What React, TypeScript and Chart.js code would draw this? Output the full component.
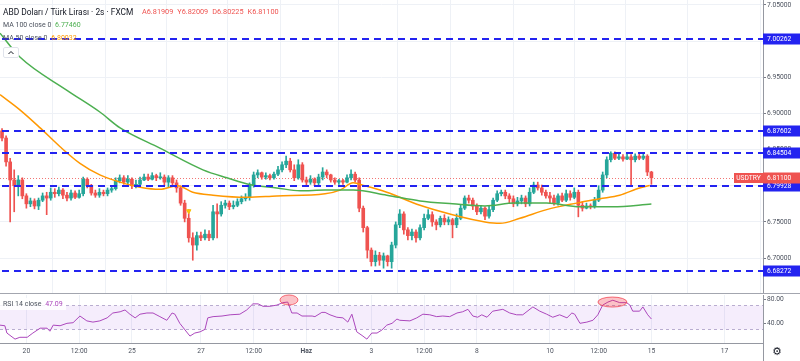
import React, { useEffect, useRef } from 'react';
import { Chart, registerables } from 'chart.js';

Chart.register(...registerables);

// ---------- data ----------
const firstOpen = 6.876;
const closes = [
  6.866, 6.833, 6.808, 6.800, 6.808, 6.786, 6.775, 6.779, 6.772, 6.780,
  6.786, 6.783, 6.791, 6.789, 6.794, 6.787, 6.783, 6.790, 6.784, 6.789,
  6.809, 6.800, 6.790, 6.787, 6.791, 6.789, 6.794, 6.796, 6.807, 6.811,
  6.805, 6.809, 6.800, 6.802, 6.808, 6.812, 6.809, 6.814, 6.811, 6.812,
  6.805, 6.811, 6.804, 6.797, 6.776, 6.755, 6.728, 6.718, 6.731, 6.728,
  6.733, 6.728, 6.764, 6.761, 6.773, 6.776, 6.771, 6.773, 6.778, 6.782,
  6.784, 6.801, 6.815, 6.818, 6.812, 6.814, 6.811, 6.816, 6.822, 6.829,
  6.834, 6.822, 6.811, 6.829, 6.808, 6.805, 6.809, 6.804, 6.812, 6.819,
  6.815, 6.808, 6.805, 6.807, 6.805, 6.811, 6.816, 6.808, 6.769, 6.742,
  6.711, 6.695, 6.704, 6.697, 6.703, 6.695, 6.718, 6.746, 6.761, 6.739,
  6.731, 6.736, 6.728, 6.742, 6.755, 6.760, 6.750, 6.746, 6.755, 6.750,
  6.753, 6.746, 6.755, 6.769, 6.783, 6.780, 6.772, 6.764, 6.769, 6.758,
  6.767, 6.780, 6.789, 6.791, 6.786, 6.782, 6.775, 6.779, 6.783, 6.775,
  6.791, 6.801, 6.797, 6.791, 6.786, 6.783, 6.776, 6.786, 6.780, 6.789,
  6.784, 6.791, 6.773, 6.769, 6.772, 6.771, 6.780, 6.794, 6.815, 6.836,
  6.845, 6.838, 6.840, 6.837, 6.840, 6.836, 6.841, 6.838, 6.841, 6.819,
  6.811,
];
const highs = [
  6.879, 6.869, 6.838, 6.822, 6.814, 6.811, 6.789, 6.783, 6.782, 6.783,
  6.790, 6.791, 6.797, 6.796, 6.798, 6.796, 6.791, 6.794, 6.793, 6.794,
  6.812, 6.811, 6.802, 6.794, 6.796, 6.794, 6.797, 6.800, 6.811, 6.815,
  6.814, 6.814, 6.811, 6.808, 6.812, 6.816, 6.816, 6.818, 6.816, 6.818,
  6.815, 6.814, 6.814, 6.808, 6.800, 6.780, 6.767, 6.735, 6.736, 6.736,
  6.739, 6.738, 6.773, 6.775, 6.778, 6.780, 6.779, 6.779, 6.782, 6.786,
  6.789, 6.804, 6.819, 6.822, 6.819, 6.818, 6.816, 6.819, 6.827, 6.833,
  6.841, 6.838, 6.829, 6.836, 6.832, 6.812, 6.814, 6.811, 6.816, 6.825,
  6.822, 6.816, 6.811, 6.809, 6.809, 6.815, 6.822, 6.819, 6.811, 6.772,
  6.744, 6.714, 6.710, 6.708, 6.707, 6.704, 6.722, 6.750, 6.767, 6.764,
  6.742, 6.740, 6.739, 6.746, 6.761, 6.767, 6.764, 6.753, 6.758, 6.760,
  6.757, 6.755, 6.761, 6.773, 6.786, 6.787, 6.783, 6.775, 6.773, 6.771,
  6.772, 6.783, 6.793, 6.794, 6.794, 6.789, 6.786, 6.784, 6.787, 6.786,
  6.797, 6.805, 6.805, 6.801, 6.794, 6.791, 6.787, 6.789, 6.790, 6.794,
  6.793, 6.797, 6.794, 6.778, 6.776, 6.775, 6.784, 6.800, 6.819, 6.840,
  6.847, 6.847, 6.844, 6.843, 6.844, 6.843, 6.844, 6.844, 6.844, 6.843,
  6.820,
];
const lows = [
  6.862, 6.827, 6.750, 6.764, 6.786, 6.782, 6.769, 6.771, 6.768, 6.767,
  6.778, 6.760, 6.780, 6.784, 6.786, 6.782, 6.779, 6.780, 6.782, 6.783,
  6.786, 6.797, 6.787, 6.784, 6.784, 6.786, 6.786, 6.791, 6.794, 6.804,
  6.802, 6.802, 6.796, 6.797, 6.800, 6.807, 6.807, 6.808, 6.807, 6.809,
  6.800, 6.798, 6.800, 6.791, 6.773, 6.750, 6.722, 6.697, 6.711, 6.724,
  6.725, 6.724, 6.725, 6.728, 6.758, 6.769, 6.767, 6.768, 6.771, 6.775,
  6.779, 6.780, 6.798, 6.811, 6.809, 6.809, 6.808, 6.809, 6.814, 6.819,
  6.825, 6.819, 6.807, 6.809, 6.805, 6.801, 6.802, 6.800, 6.801, 6.808,
  6.811, 6.805, 6.802, 6.802, 6.802, 6.804, 6.808, 6.805, 6.764, 6.736,
  6.700, 6.689, 6.689, 6.690, 6.686, 6.689, 6.686, 6.714, 6.742, 6.733,
  6.725, 6.725, 6.722, 6.725, 6.739, 6.753, 6.744, 6.739, 6.743, 6.746,
  6.746, 6.728, 6.742, 6.753, 6.767, 6.776, 6.767, 6.760, 6.761, 6.753,
  6.755, 6.764, 6.778, 6.786, 6.782, 6.776, 6.771, 6.772, 6.775, 6.771,
  6.772, 6.789, 6.794, 6.787, 6.783, 6.776, 6.773, 6.773, 6.778, 6.778,
  6.780, 6.782, 6.757, 6.765, 6.768, 6.768, 6.769, 6.778, 6.791, 6.811,
  6.833, 6.836, 6.836, 6.834, 6.836, 6.801, 6.833, 6.836, 6.836, 6.814,
  6.802,
];

const ma100Idx = [-0.5, 4.4, 16, 24.1, 29.1, 38.9, 49.5, 55.4, 61.6, 67.7, 73.4, 79.6, 86.5, 94.8, 103, 111, 119, 126.4, 134.2, 142.4, 150.5, 160];
const ma100Val = [7.011, 6.978, 6.932, 6.902, 6.880, 6.852, 6.822, 6.811, 6.801, 6.797, 6.793, 6.794, 6.794, 6.787, 6.779, 6.775, 6.772, 6.776, 6.776, 6.771, 6.771, 6.7746];
const ma50Idx = [-0.5, 4.4, 9.4, 14.3, 19.2, 24.1, 29.1, 34, 38.9, 43.3, 47, 52, 60.3, 67.7, 79.6, 83.3, 86.5, 89.4, 94.8, 103, 111, 119, 122.7, 127.6, 134.2, 141.6, 147.3, 152.2, 157.1, 159.6];
const ma50Val = [6.926, 6.905, 6.880, 6.854, 6.831, 6.815, 6.805, 6.798, 6.795, 6.800, 6.791, 6.787, 6.784, 6.786, 6.789, 6.794, 6.804, 6.800, 6.791, 6.773, 6.760, 6.750, 6.748, 6.755, 6.767, 6.776, 6.782, 6.787, 6.797, 6.80032];

const rsiIdx = [
  -0.5, 0.7, 1.2, 3.2, 4.4, 6.2, 7.6, 9.4, 11.1, 11.8,
  12.6, 14.3, 16, 17.5, 19.2, 20.9, 22.4, 24.1, 25.9, 27.3,
  29.1, 30.3, 31.5, 32.8, 34, 35.7, 37.2, 38.9, 40.6, 41.9,
  42.6, 43.8, 45.1, 46.3, 47.5, 48.8, 50, 50.7, 52, 54.2,
  56.2, 58.6, 60.3, 61.8, 63.1, 64.3, 66, 67.7, 69.2, 70.4,
  71.4, 72.7, 73.9, 76.4, 77.1, 78.8, 79.6, 80.8, 82.5, 84,
  85.2, 86.2, 87.4, 88.7, 89.9, 91.1, 92.4, 93.6, 94.8, 96.1,
  97.3, 98, 100.5, 102.2, 103.7, 105.4, 107.1, 108.6, 110.3, 112.1,
  113.5, 114.8, 116, 117.2, 118.2, 119.5, 120.9, 123.4, 125.1, 126.8,
  128.3, 130.8, 132.5, 134.2, 135.7, 137.4, 139.2, 140.4, 141.1, 142.4,
  144.1, 145.6, 146.8, 148, 149.3, 150.5, 152.2, 153.9, 154.7, 155.4,
  157.1, 157.9, 159.1, 160,
];
const rsiVal = [
  37, 36, 24, 14, 17, 17, 24, 32, 32, 27,
  37, 36, 40, 41, 52, 44, 42, 44, 49, 57,
  59, 62, 55, 49, 55, 57, 57, 51, 45, 57,
  55, 40, 29, 19, 24, 26, 30, 49, 51, 52,
  54, 55, 62, 72, 72, 68, 68, 70, 74, 75,
  57, 57, 52, 52, 51, 58, 58, 54, 50, 49,
  42, 55, 26, 20, 14, 24, 24, 29, 37, 40,
  47, 45, 44, 49, 55, 54, 51, 52, 51, 57,
  59, 63, 52, 50, 54, 50, 60, 63, 57, 54,
  54, 67, 60, 55, 50, 54, 49, 57, 55, 40,
  42, 45, 54, 70, 75, 78, 74, 74, 70, 60,
  60, 67, 54, 47.09,
];

const timeTickIdx = [6, 19, 32, 49, 62, 75, 91, 104, 117, 135, 147, 160, 178];
const timeTickLabels = ['20', '12:00', '25', '27', '12:00', 'Haz', '3', '12:00', '8', '10', '12:00', '15', '17'];
const priceTicks = [7.05, 7.0, 6.95, 6.9, 6.85, 6.8, 6.75, 6.7];
const levels = [7.00262, 6.87602, 6.84504, 6.79928, 6.68272];
const lastPrice = 6.811;
const rsiTicks = [80, 40];
const rsiBand = [70, 30];
const markIdx = [46];
const markVal = [6.765];
const hiliteIdx = [70.7, 150.4];
const hiliteVal = [78.4, 75];

// ---------- style ----------
const FONT = 'Roboto, "DejaVu Sans", sans-serif';
const UP = '#26a69a';
const DOWN = '#ef5350';
const BLUE = '#2323f0';
const GRID = '#eef1f6';
const AXIS = '#9598a1';
const LABEL = '#4c525e';
const XMIN = -0.5;
const XMAX = 187.5;
const AXIS_W = 37;

function zeroPad(s: any) {
  s.paddingTop = 0;
  s.paddingBottom = 0;
  s.paddingLeft = 0;
  s.paddingRight = 0;
}

export default function App() {
  const mainRef = useRef<HTMLCanvasElement>(null);
  const rsiRef = useRef<HTMLCanvasElement>(null);

  useEffect(() => {
    const opens = closes.map((c, i) => (i === 0 ? firstOpen : closes[i - 1]));
    const colors = closes.map((c, i) => (c >= opens[i] ? UP : DOWN));

    const mainDeco = {
      id: 'mainDeco',
      beforeDatasetsDraw(chart: any) {
        const { ctx, chartArea: a, scales } = chart;
        const py = Math.round(scales.y.getPixelForValue(lastPrice)) + 0.5;
        ctx.save();
        ctx.strokeStyle = 'rgba(239,83,80,0.8)';
        ctx.lineWidth = 1;
        ctx.setLineDash([1, 2]);
        ctx.beginPath();
        ctx.moveTo(a.left, py);
        ctx.lineTo(a.right, py);
        ctx.stroke();
        ctx.restore();
      },
      afterDatasetsDraw(chart: any) {
        const { ctx, chartArea: a, scales } = chart;
        ctx.save();
        ctx.strokeStyle = BLUE;
        ctx.lineWidth = 2;
        ctx.setLineDash([7, 5]);
        levels.forEach((v) => {
          const py = Math.round(scales.y.getPixelForValue(v));
          ctx.beginPath();
          ctx.moveTo(a.left + 2, py);
          ctx.lineTo(a.right, py);
          ctx.stroke();
        });
        ctx.restore();
      },
      afterDraw(chart: any) {
        const { ctx, chartArea: a, scales } = chart;
        ctx.save();
        ctx.font = `6.7px ${FONT}`;
        ctx.textBaseline = 'middle';
        levels.forEach((v) => {
          const py = Math.round(scales.y.getPixelForValue(v));
          ctx.fillStyle = BLUE;
          ctx.fillRect(a.right, py - 5.5, AXIS_W, 11);
          ctx.fillStyle = '#ffffff';
          ctx.textAlign = 'left';
          ctx.fillText(v.toFixed(5), a.right + 4, py + 0.5);
        });
        const py = Math.round(scales.y.getPixelForValue(lastPrice));
        ctx.fillStyle = DOWN;
        ctx.fillRect(a.right, py - 5.5, AXIS_W, 11);
        ctx.fillRect(a.right - 29, py - 5, 29, 10);
        ctx.fillStyle = '#ffffff';
        ctx.textAlign = 'left';
        ctx.fillText(lastPrice.toFixed(5), a.right + 4, py + 0.5);
        ctx.textAlign = 'center';
        ctx.fillText('USDTRY', a.right - 14.5, py + 0.5);
        ctx.fillStyle = '#a3a6af';
        ctx.fillRect(0, chart.height - 1, chart.width, 1);
        ctx.restore();
      },
    };

    const main = new Chart(mainRef.current as HTMLCanvasElement, {
      type: 'bar',
      data: {
        datasets: [
          {
            type: 'line',
            label: 'MA 100',
            data: ma100Idx.map((x, i) => ({ x, y: ma100Val[i] })),
            borderColor: '#4caf50',
            borderWidth: 1.5,
            pointRadius: 0,
            cubicInterpolationMode: 'monotone',
            order: 0,
          } as any,
          {
            type: 'line',
            label: 'MA 50',
            data: ma50Idx.map((x, i) => ({ x, y: ma50Val[i] })),
            borderColor: '#ff9800',
            borderWidth: 1.5,
            pointRadius: 0,
            cubicInterpolationMode: 'monotone',
            order: 0,
          } as any,
          {
            type: 'line',
            label: 'mark',
            data: markIdx.map((x, i) => ({ x, y: markVal[i] })),
            showLine: false,
            pointStyle: 'triangle',
            rotation: 180,
            pointRadius: 2.6,
            pointBackgroundColor: '#f9c20a',
            pointBorderColor: '#f9c20a',
            order: 0,
          } as any,
          {
            label: 'wick',
            data: closes.map((c, i) => ({ x: i, y: [lows[i], highs[i]] })),
            backgroundColor: colors,
            barThickness: 1,
            grouped: false,
            borderWidth: 0,
            order: 2,
          } as any,
          {
            label: 'body',
            data: closes.map((c, i) => ({ x: i, y: [opens[i], c] })),
            backgroundColor: colors,
            barThickness: 3,
            minBarLength: 1,
            grouped: false,
            borderWidth: 0,
            order: 1,
          } as any,
        ],
      },
      options: {
        responsive: false,
        animation: false,
        events: [],
        layout: { padding: 0, autoPadding: false },
        plugins: { legend: { display: false }, tooltip: { enabled: false } },
        scales: {
          x: {
            type: 'linear',
            min: XMIN,
            max: XMAX,
            offset: false,
            afterBuildTicks: (s: any) => {
              s.ticks = timeTickIdx.map((v) => ({ value: v }));
            },
            afterFit: (s: any) => {
              s.height = 0;
              zeroPad(s);
            },
            ticks: { display: false },
            grid: { color: GRID, drawTicks: false },
            border: { display: false },
          },
          y: {
            position: 'right',
            min: 6.6503,
            max: 7.0569,
            afterBuildTicks: (s: any) => {
              s.ticks = priceTicks.map((v) => ({ value: v }));
            },
            afterFit: (s: any) => {
              s.width = AXIS_W;
              zeroPad(s);
            },
            ticks: {
              callback: (v: any) => Number(v).toFixed(5),
              font: { size: 6.7, family: FONT },
              color: LABEL,
              padding: 1,
            },
            grid: { color: GRID, tickLength: 3, tickColor: '#787b86' },
            border: { color: AXIS },
          },
        },
      } as any,
      plugins: [mainDeco],
    });

    const rsiDeco = {
      id: 'rsiDeco',
      beforeDatasetsDraw(chart: any) {
        const { ctx, chartArea: a, scales } = chart;
        const y1 = Math.round(scales.y.getPixelForValue(rsiBand[0])) + 0.5;
        const y2 = Math.round(scales.y.getPixelForValue(rsiBand[1])) + 0.5;
        ctx.save();
        ctx.fillStyle = 'rgba(155, 80, 230, 0.1)';
        ctx.fillRect(a.left, y1, a.right - a.left, y2 - y1);
        ctx.strokeStyle = '#b9add0';
        ctx.lineWidth = 1;
        ctx.setLineDash([3, 3]);
        [y1, y2].forEach((yy) => {
          ctx.beginPath();
          ctx.moveTo(a.left, yy);
          ctx.lineTo(a.right, yy);
          ctx.stroke();
        });
        ctx.restore();
      },
      afterDatasetsDraw(chart: any) {
        const { ctx, scales } = chart;
        const radii = [[9, 5], [14.5, 5]];
        ctx.save();
        hiliteIdx.forEach((x, i) => {
          const cx = scales.x.getPixelForValue(x);
          const cy = scales.y.getPixelForValue(hiliteVal[i]);
          ctx.beginPath();
          ctx.ellipse(cx, cy, radii[i][0], radii[i][1], 0, 0, Math.PI * 2);
          ctx.fillStyle = 'rgba(242, 54, 69, 0.3)';
          ctx.fill();
          ctx.strokeStyle = 'rgba(242, 54, 69, 0.7)';
          ctx.lineWidth = 1;
          ctx.stroke();
        });
        ctx.restore();
      },
      afterDraw(chart: any) {
        const { ctx, chartArea: a } = chart;
        ctx.save();
        ctx.fillStyle = AXIS;
        ctx.fillRect(a.right, a.bottom, 1, chart.height - a.bottom);
        ctx.restore();
      },
    };

    const rsi = new Chart(rsiRef.current as HTMLCanvasElement, {
      type: 'line',
      data: {
        datasets: [
          {
            label: 'RSI 14',
            data: rsiIdx.map((x, i) => ({ x, y: rsiVal[i] })),
            borderColor: '#ab47bc',
            borderWidth: 1,
            pointRadius: 0,
            tension: 0,
          },
        ],
      },
      options: {
        responsive: false,
        animation: false,
        events: [],
        layout: { padding: { top: 1 }, autoPadding: false },
        plugins: { legend: { display: false }, tooltip: { enabled: false } },
        scales: {
          x: {
            type: 'linear',
            min: XMIN,
            max: XMAX,
            offset: false,
            afterBuildTicks: (s: any) => {
              s.ticks = timeTickIdx.map((v) => ({ value: v }));
            },
            afterFit: (s: any) => {
              s.height = 18;
              zeroPad(s);
            },
            ticks: {
              autoSkip: false,
              maxRotation: 0,
              padding: 4,
              color: LABEL,
              callback: (v: any) => {
                const k = timeTickIdx.indexOf(Number(v));
                return k >= 0 ? timeTickLabels[k] : '';
              },
              font: (ctx: any) => ({
                size: 6.7,
                family: FONT,
                weight: ctx.tick && ctx.tick.label === 'Haz' ? 'bold' : 'normal',
              }),
            },
            grid: { color: GRID, drawTicks: false },
            border: { color: AXIS },
          },
          y: {
            position: 'right',
            min: 7.6,
            max: 86.6,
            afterBuildTicks: (s: any) => {
              s.ticks = rsiTicks.map((v) => ({ value: v }));
            },
            afterFit: (s: any) => {
              s.width = AXIS_W;
              zeroPad(s);
            },
            ticks: {
              callback: (v: any) => Number(v).toFixed(2),
              font: { size: 6.7, family: FONT },
              color: LABEL,
              padding: 1,
            },
            grid: { drawOnChartArea: false, tickLength: 3, tickColor: '#787b86' },
            border: { color: AXIS },
          },
        },
      } as any,
      plugins: [rsiDeco],
    });

    return () => {
      main.destroy();
      rsi.destroy();
    };
  }, []);

  const abs = (left: number, top: number, extra: any = {}) => ({
    position: 'absolute' as const,
    left,
    top,
    whiteSpace: 'nowrap' as const,
    lineHeight: '10px',
    ...extra,
  });

  return (
    <div
      style={{
        position: 'absolute',
        left: 0,
        top: 0,
        width: 800,
        height: 361,
        background: '#ffffff',
        overflow: 'hidden',
        fontFamily: FONT,
      }}
    >
      <canvas
        ref={mainRef}
        width={800}
        height={294}
        style={{ position: 'absolute', left: 0, top: 0, width: 800, height: 294 }}
      />
      <canvas
        ref={rsiRef}
        width={800}
        height={67}
        style={{ position: 'absolute', left: 0, top: 294, width: 800, height: 67 }}
      />
      <div style={abs(3, 7, { fontSize: 8.4, color: '#131722' })}>ABD Doları / Türk Lirası · 2s · FXCM</div>
      <div style={abs(142, 7, { fontSize: 7.3, color: '#ef5350' })}>
        <span style={{ marginRight: 4 }}>A6.81909</span>
        <span style={{ marginRight: 4 }}>Y6.82009</span>
        <span style={{ marginRight: 4 }}>D6.80225</span>
        <span>K6.81100</span>
      </div>
      <div style={abs(3, 20, { fontSize: 7, color: '#4c525e' })}>
        MA 100 close 0 <span style={{ color: '#4caf50', marginLeft: 2 }}>6.77460</span>
      </div>
      <div style={abs(3, 33, { fontSize: 7, color: '#4c525e' })}>
        MA 50 close 0 <span style={{ color: '#ff9800', marginLeft: 2 }}>6.80032</span>
      </div>
      <div
        style={{
          position: 'absolute',
          left: 3,
          top: 47,
          width: 14,
          height: 9,
          border: '1px solid #e0e3eb',
          borderRadius: 2,
          background: '#ffffff',
        }}
      >
        <svg width="14" height="9" style={{ display: 'block' }}>
          <polyline points="4.5,6 7,3.5 9.5,6" fill="none" stroke="#131722" strokeWidth="1" />
        </svg>
      </div>
      <div style={abs(0, 298, { fontSize: 7, color: '#4c525e', padding: '1px 3px', background: 'rgba(255,255,255,0.85)' })}>
        RSI 14 close <span style={{ color: '#ab47bc', marginLeft: 2 }}>47.09</span>
      </div>
      <div style={abs(772, 346, { fontSize: 11, lineHeight: '12px', color: '#131722', fontFamily: '"DejaVu Sans", sans-serif' })}>⚙</div>
    </div>
  );
}
